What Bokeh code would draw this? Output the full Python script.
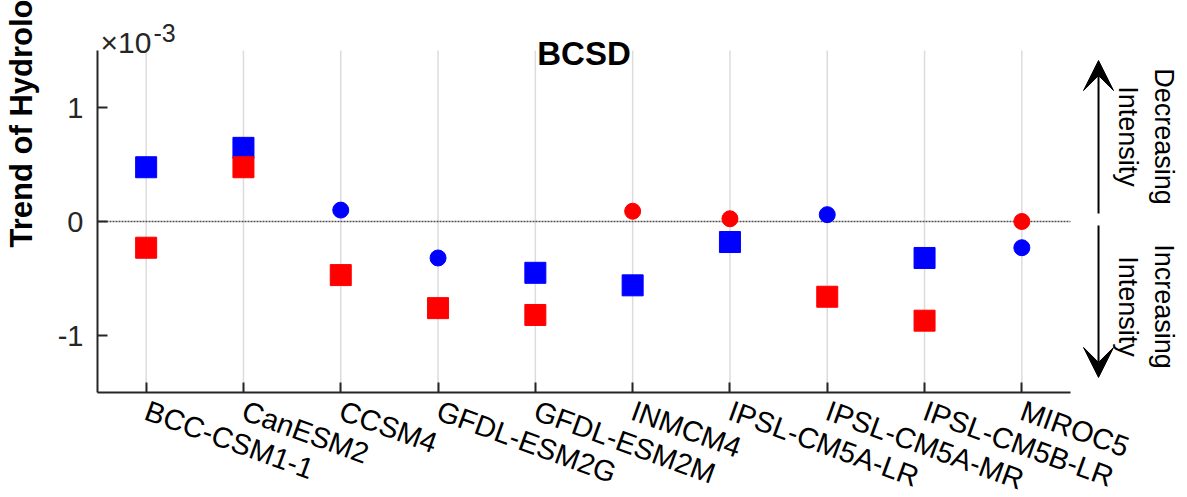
import math
from bokeh.plotting import figure
from bokeh.models import Range1d, FixedTicker, Label, Arrow, VeeHead, ColumnDataSource
from bokeh.embed import file_html
from bokeh.resources import INLINE

# ---- data (trend values in units of 1e-3) ----
models = ["BCC-CSM1-1", "CanESM2", "CCSM4", "GFDL-ESM2G", "GFDL-ESM2M",
          "INMCM4", "IPSL-CM5A-LR", "IPSL-CM5A-MR", "IPSL-CM5B-LR", "MIROC5"]
red_trend = [-0.23, 0.476, -0.47, -0.76, -0.82, 0.09, 0.024, -0.66, -0.87, 0.0]
red_square = [True, True, True, True, True, False, False, True, True, False]
blue_trend = [0.476, 0.646, 0.10, -0.32, -0.45, -0.56, -0.18, 0.06, -0.32, -0.23]
blue_square = [True, True, False, False, True, True, True, False, True, False]
y_ticks = [-1, 0, 1]
title_text = "BCSD"
y_label_text = "Trend of Hydrological Intensity"

FONT = "Liberation Sans"
TICK_COLOR = "#262626"

# axes box: x from -0.5 to 9.5, y from -1.5 to 1.5 (x1e-3)
X_LO, X_HI = -0.5, len(models) - 0.5
Y_LO, Y_HI = -1.5, 1.5

W, H = 1187, 497
PX_PER_X, PX_PER_Y = 97.3, 114.0
LEFT_PX, ZERO_PY = 97, 221
x_start = X_LO - LEFT_PX / PX_PER_X
y_end = ZERO_PY / PX_PER_Y

p = figure(frame_width=W, frame_height=H,
           min_border_left=0, min_border_right=0, min_border_top=0, min_border_bottom=0,
           x_range=Range1d(x_start, x_start + W / PX_PER_X),
           y_range=Range1d(y_end - H / PX_PER_Y, y_end),
           output_backend="svg", toolbar_location=None)
p.outline_line_color = None
p.background_fill_color = "white"
p.border_fill_color = "white"
p.xgrid.grid_line_color = None
p.ygrid.grid_line_color = None

# axes
p.xaxis.fixed_location = Y_LO
p.xaxis.bounds = (X_LO, X_HI)
p.yaxis.fixed_location = X_LO
p.yaxis.bounds = (Y_LO, Y_HI)
p.xaxis.ticker = FixedTicker(ticks=list(range(len(models))))
p.xaxis.major_label_overrides = {i: m for i, m in enumerate(models)}
p.xaxis.major_label_orientation = -20 * math.pi / 180
p.yaxis.ticker = FixedTicker(ticks=y_ticks)
p.yaxis.major_label_overrides = {t: str(t) for t in y_ticks}
for ax in (p.xaxis[0], p.yaxis[0]):
    ax.axis_line_color = TICK_COLOR
    ax.axis_line_width = 2
    ax.major_tick_line_color = TICK_COLOR
    ax.major_tick_line_width = 2
    ax.major_tick_in = 10
    ax.major_tick_out = 0
    ax.minor_tick_line_color = None
    ax.major_label_text_font = FONT
    ax.major_label_text_font_size = "29px"
    ax.major_label_text_color = TICK_COLOR
p.xaxis.major_label_text_color = "black"
p.yaxis.major_label_standoff = 14
p.xaxis.major_label_standoff = 17

x = list(range(len(models)))

# vertical grid lines inside the axes box
p.segment(x0=x, y0=[Y_LO] * len(x), x1=x, y1=[Y_HI] * len(x),
          line_color="#dcdcdc", line_width=1.5, level="underlay")
# zero line
p.segment(x0=[X_LO], y0=[0], x1=[X_HI], y1=[0],
          line_color="#505050", line_dash="2 1", line_width=1.5)

def sub(vals, mask, want):
    xs = [xi for xi, m in zip(x, mask) if m == want]
    ys = [v for v, m in zip(vals, mask) if m == want]
    return ColumnDataSource(dict(x=xs, y=ys))

p.scatter("x", "y", source=sub(blue_trend, blue_square, True), marker="square",
          size=21, fill_color="#0000ff", line_color="#0000ff")
p.scatter("x", "y", source=sub(blue_trend, blue_square, False), marker="circle",
          size=16, fill_color="#0000ff", line_color="#0000ff")
p.scatter("x", "y", source=sub(red_trend, red_square, True), marker="square",
          size=21, fill_color="#ff0000", line_color="#ff0000")
p.scatter("x", "y", source=sub(red_trend, red_square, False), marker="circle",
          size=16, fill_color="#ff0000", line_color="#ff0000")

# title
p.add_layout(Label(x=(X_LO + X_HI) / 2, y=1.474, text=title_text, text_font=FONT,
                   text_font_size="33px", text_font_style="bold", text_color="black",
                   text_align="center", text_baseline="alphabetic"))
# exponent
p.add_layout(Label(x=-0.469, y=1.570, text="\u00d710", text_font=FONT,
                   text_font_size="30px", text_color=TICK_COLOR,
                   text_align="left", text_baseline="alphabetic"))
p.add_layout(Label(x=0.075, y=1.655, text="-3", text_font=FONT,
                   text_font_size="25px", text_color=TICK_COLOR,
                   text_align="left", text_baseline="alphabetic"))
# y label
p.add_layout(Label(x=-1.28, y=-0.228, text=y_label_text, angle=math.pi / 2,
                   text_font=FONT, text_font_size="31px", text_font_style="bold",
                   text_color="black", text_align="left", text_baseline="alphabetic"))
# right side annotation
for txt, xx, yy in [("Decreasing", 10.456, 0.746), ("Intensity", 10.096, 0.746),
                    ("Increasing", 10.456, -0.746), ("Intensity", 10.096, -0.746)]:
    p.add_layout(Label(x=xx, y=yy, text=txt, angle=-math.pi / 2, text_font=FONT,
                       text_font_size="27px", text_color="black",
                       text_align="center", text_baseline="middle"))
ax_x = 9.788
p.add_layout(Arrow(x_start=ax_x, y_start=0.07, x_end=ax_x, y_end=1.412,
                   line_width=2, line_color="black",
                   end=VeeHead(size=30, fill_color="black", line_color="black")))
p.add_layout(Arrow(x_start=ax_x, y_start=-0.035, x_end=ax_x, y_end=-1.368,
                   line_width=2, line_color="black",
                   end=VeeHead(size=30, fill_color="black", line_color="black")))

open("out.html", "w").write(file_html(p, INLINE))
